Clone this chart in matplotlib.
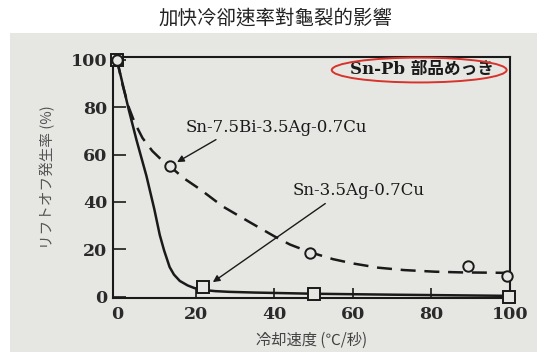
import numpy as np
import matplotlib.pyplot as plt
from matplotlib.patches import Ellipse, Rectangle

bi_x = [0, 13.5, 49, 89.4, 99.3]
bi_y = [100, 55, 18.5, 12.9, 8.7]
ag_x = [0, 21.8, 50.2, 99.7]
ag_y = [100, 4.2, 1.1, 0]

# drawn fitted curves
bi_curve_x = [0, 1.5, 3, 4.5, 6.5, 9, 11.5, 13.5, 17, 21, 27, 33.6, 40, 44, 49,
              55, 60, 66.5, 73, 81, 88, 95, 100]
bi_curve_y = [100, 89, 80, 73.5, 67, 61.5, 57.5, 55, 50, 45.5, 38, 31.6, 25.5,
              22, 18.8, 15.8, 14, 12.2, 11.2, 10.5, 10.2, 10.1, 10]
ag_curve_x = [0, 3, 5, 7.5, 9.5, 10.9, 12, 13.4, 14.5, 16, 18, 19.7, 22, 25,
              28.6, 35, 50, 70, 100]
ag_curve_y = [100, 79, 66, 51, 37, 26, 19.5, 12.5, 9.3, 6.6, 4.7, 3.6, 2.8, 2.3,
              2.0, 1.7, 1.2, 0.8, 0.3]

x_ticks = [0, 20, 40, 60, 80, 100]
y_ticks = [0, 20, 40, 60, 80, 100]

title = '加快冷卻速率對龜裂的影響'
x_label = '冷却速度 (℃/秒)'
y_label = 'リフトオフ発生率 (%)'
label_bi = 'Sn-7.5Bi-3.5Ag-0.7Cu'
label_ag = 'Sn-3.5Ag-0.7Cu'
note = 'Sn-Pb 部品めっき'

panel = '#e6e7e3'
ink = '#1a1a1a'
serif = ['DejaVu Serif', 'Noto Sans CJK JP']
cjk = ['Noto Sans CJK JP', 'DejaVu Sans']

fig = plt.figure(figsize=(5.51, 3.55), dpi=100)
fig.patch.set_facecolor('white')
fig.patches.append(Rectangle((10 / 551, 1 - 352 / 355), 527 / 551, 319 / 355,
                             transform=fig.transFigure, facecolor=panel,
                             edgecolor='none', zorder=-5))
fig.text(0.5, 0.948, title, ha='center', va='center', fontsize=14,
         color='#222222', family=['Noto Sans CJK TC', 'DejaVu Sans'])

ax = fig.add_axes([113 / 551, 1 - 298 / 355, 397 / 551, 241 / 355])
ax.set_facecolor('none')

ax.plot(ag_curve_x, ag_curve_y, color=ink, lw=1.8, solid_capstyle='round', zorder=2)
ax.plot(bi_curve_x, bi_curve_y, color=ink, lw=1.8, dashes=(6, 3.5), zorder=2)
ax.plot(ag_x, ag_y, linestyle='none', marker='s', ms=8, mfc=panel, mec=ink,
        mew=1.4, clip_on=False, zorder=3)
ax.plot(bi_x, bi_y, linestyle='none', marker='o', ms=7.5, mfc=panel, mec=ink,
        mew=1.4, clip_on=False, zorder=3)

ax.set_xlim(-1, 99.5)
ax.set_ylim(-0.6, 101.2)
ax.set_xticks(x_ticks)
ax.set_yticks(y_ticks)
ax.tick_params(direction='in', width=1.2, colors=ink, labelsize=12.5)
ax.tick_params(axis='y', length=9, pad=4)
ax.tick_params(axis='x', length=7, pad=6)
for t in (ax.xaxis.get_major_ticks()[0], ax.xaxis.get_major_ticks()[-1]):
    t.tick1line.set_visible(False)
for lab in ax.get_xticklabels() + ax.get_yticklabels():
    lab.set_family('DejaVu Serif')
    lab.set_fontweight('bold')
    lab.set_color('#2a2a2a')
for s in ax.spines.values():
    s.set_linewidth(1.5)
    s.set_color(ink)

ax.set_xlabel(x_label, family=cjk, fontsize=11, color='#444444', labelpad=6)
ax.set_ylabel(y_label, family=cjk, fontsize=10.5, color='#555555', labelpad=11)

arrow = dict(arrowstyle='-|>', color=ink, lw=1.0, mutation_scale=10,
             shrinkA=0, shrinkB=0)
ax.text(17.6, 71.6, label_bi, family=serif, fontsize=12, color=ink, va='center')
ax.annotate('', xy=(15.3, 56.8), xytext=(25.2, 66.3), arrowprops=arrow)
ax.text(44.6, 44.6, label_ag, family=serif, fontsize=12, color=ink, va='center')
ax.annotate('', xy=(24.4, 6.1), xytext=(53.0, 39.3), arrowprops=arrow)

ax.text(77.6, 95.9, note, family=serif, fontsize=12, fontweight='bold',
        color=ink, ha='center', va='center')
ax.add_patch(Ellipse((76.9, 95.7), 44.5, 10.5, facecolor='none',
                     edgecolor='#d8322b', lw=1.4, clip_on=False, zorder=4))

plt.savefig('out.png', dpi=100)
